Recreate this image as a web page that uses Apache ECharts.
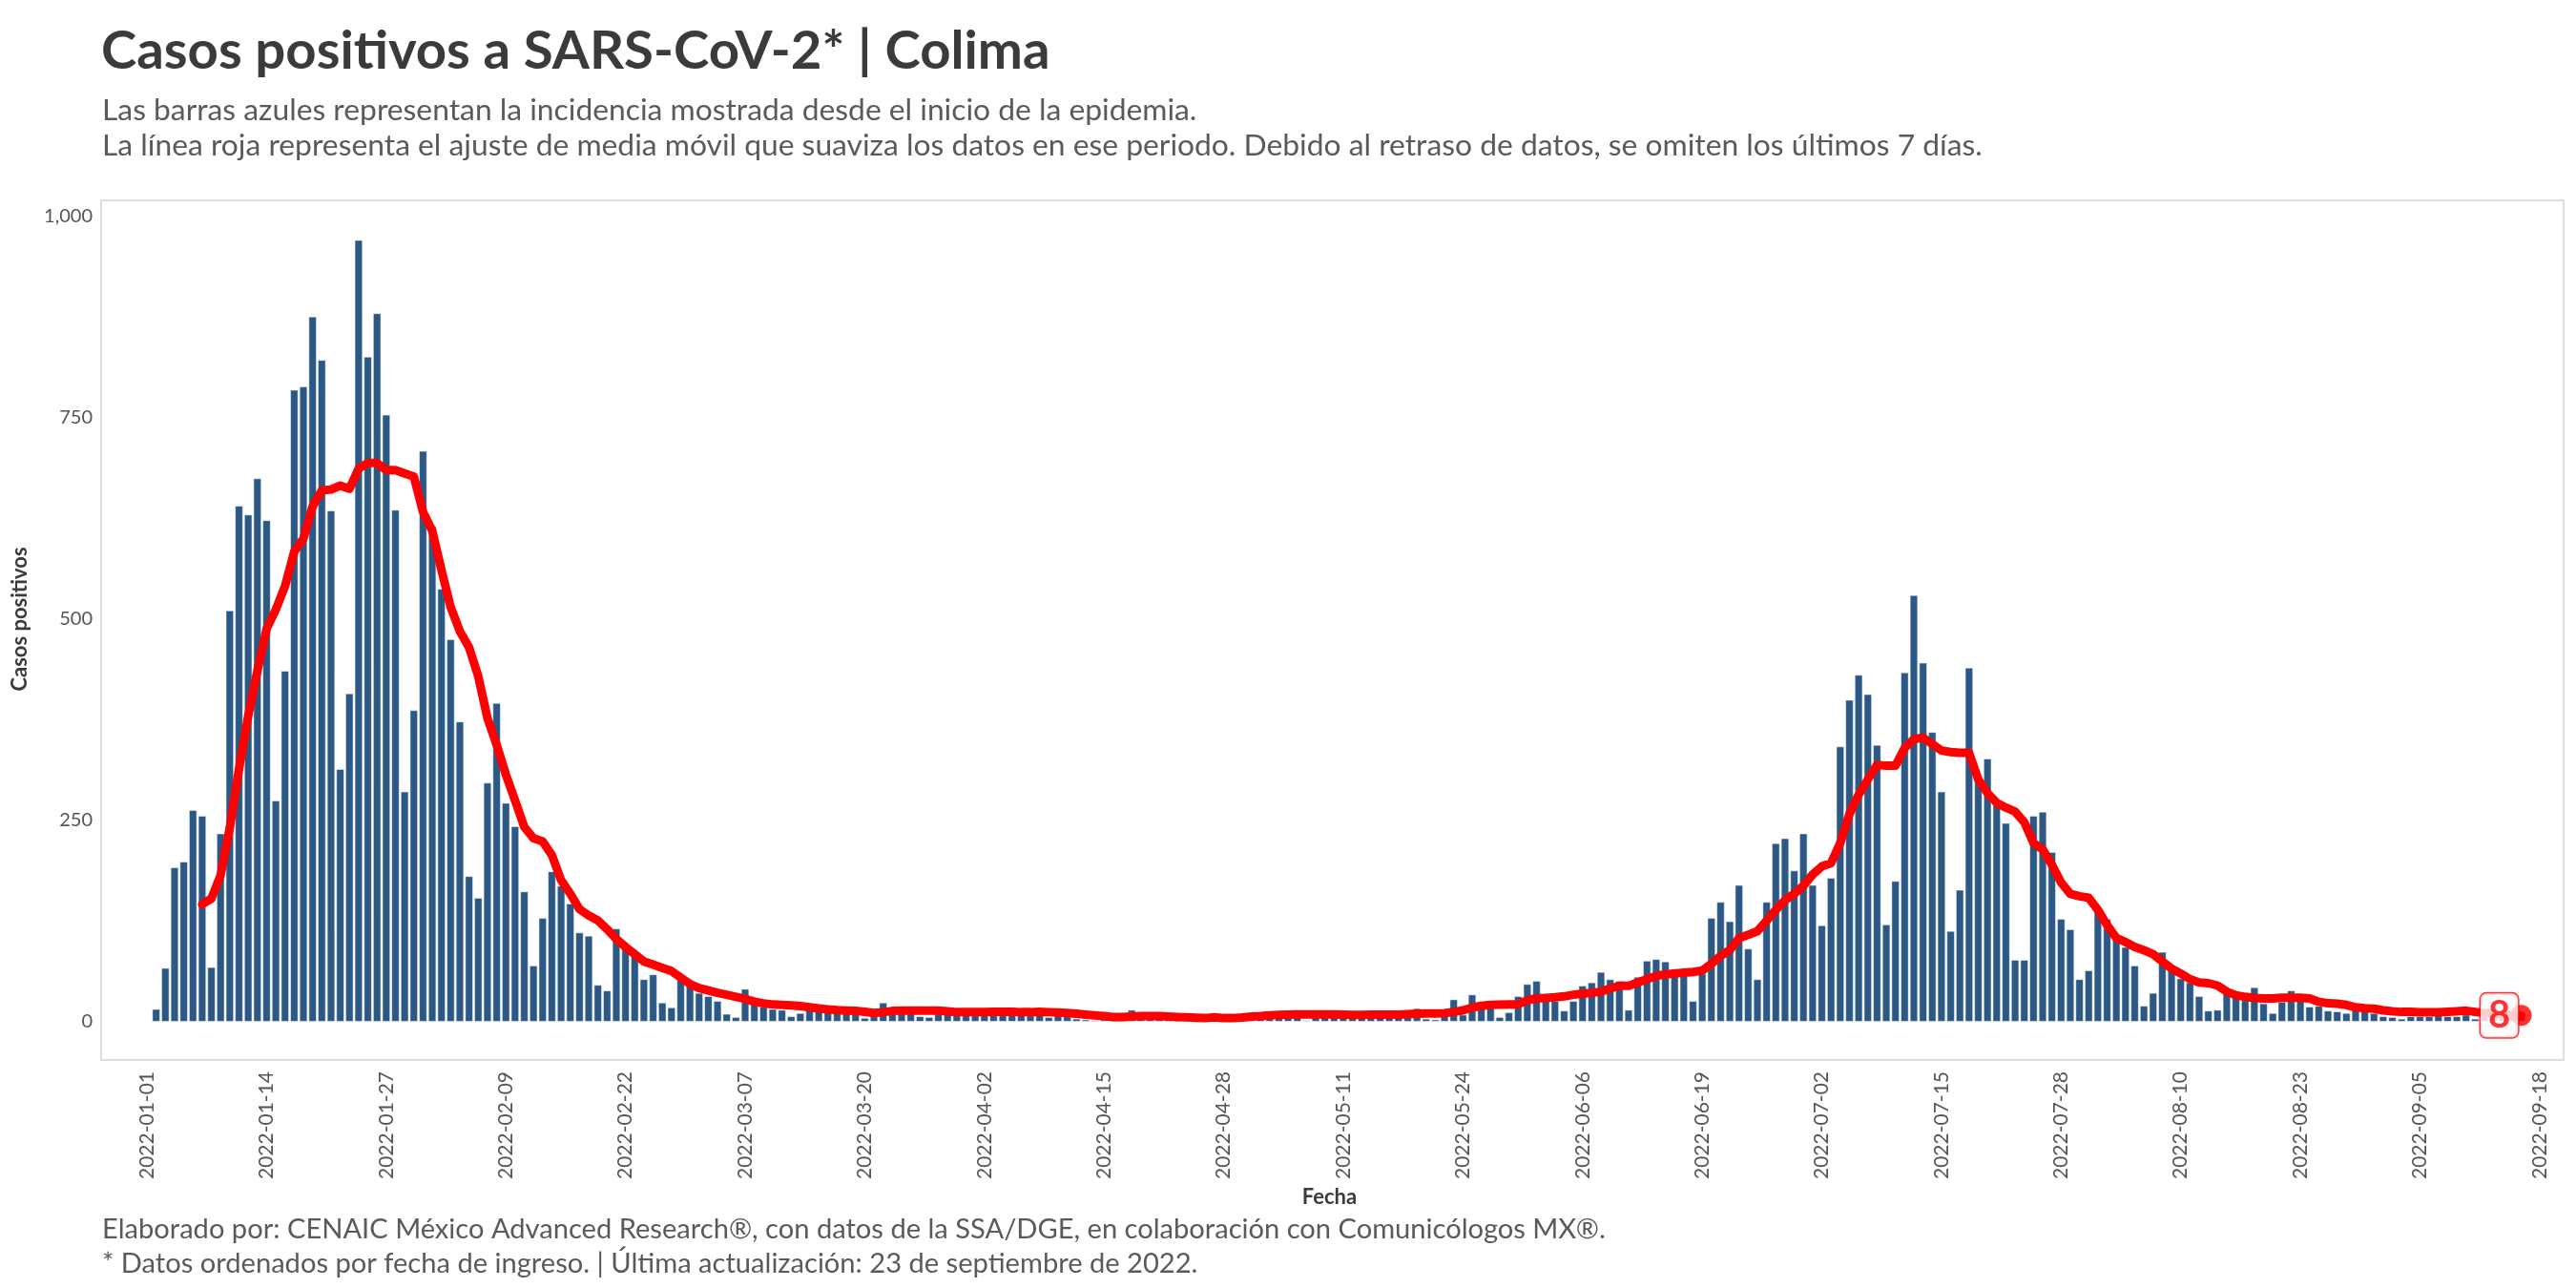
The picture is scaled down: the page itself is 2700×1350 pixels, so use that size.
<!DOCTYPE html>
<html lang="es">
<head>
<meta charset="utf-8">
<title>Casos positivos a SARS-CoV-2 | Colima</title>
<script src="https://cdn.jsdelivr.net/npm/echarts@6/dist/echarts.min.js"></script>
<style>
    html, body { margin: 0; padding: 0; background: #ffffff; }
    #grafica { width: 2700px; height: 1350px; }
</style>
</head>
<body>
<div id="grafica"></div>
<script>

// rango del eje x (un poco de margen antes y despues de los datos)
var inicioEje = '2021-12-27';
var finEje = '2022-09-20';

// etiquetas del eje x, cada 13 dias
var etiquetasFecha = ['2022-01-01', '2022-01-14', '2022-01-27', '2022-02-09', '2022-02-22',
    '2022-03-07', '2022-03-20', '2022-04-02', '2022-04-15', '2022-04-28', '2022-05-11',
    '2022-05-24', '2022-06-06', '2022-06-19', '2022-07-02', '2022-07-15', '2022-07-28',
    '2022-08-10', '2022-08-23', '2022-09-05', '2022-09-18'];

// etiquetas del eje y
var etiquetasCasos = [0, 250, 500, 750, 1000];

// casos positivos por dia, desde el 2022-01-02
var inicioCasos = '2022-01-02';
var casos = [
    16, 67, 192, 199, 263, 256, 68, 234, 511, 641,
    630, 675, 623, 275, 436, 785, 789, 876, 822, 635,
    314, 408, 971, 826, 880, 754, 636, 286, 387, 709,
    616, 538, 475, 373, 181, 154, 297, 396, 272, 243,
    162, 70, 129, 187, 169, 147, 111, 107, 46, 39,
    116, 93, 87, 53, 59, 24, 18, 54, 47, 36,
    32, 26, 10, 6, 41, 23, 19, 16, 15, 7,
    11, 22, 19, 16, 13, 12, 11, 5, 7, 24,
    13, 12, 11, 7, 6, 12, 11, 11, 11, 11,
    12, 13, 17, 15, 12, 11, 12, 6, 9, 7,
    4, 3, 2, 3, 3, 6, 15, 6, 5, 7,
    5, 4, 6, 3, 5, 4, 6, 3, 5, 7,
    8, 9, 13, 12, 12, 2, 9, 10, 8, 9,
    10, 7, 9, 10, 8, 9, 10, 17, 4, 3,
    9, 28, 9, 34, 25, 24, 6, 12, 32, 47,
    51, 27, 26, 14, 26, 45, 49, 62, 53, 51,
    15, 56, 76, 78, 75, 66, 66, 26, 60, 129,
    149, 125, 170, 91, 53, 149, 222, 228, 188, 234,
    170, 120, 179, 342, 400, 431, 407, 344, 121, 175,
    434, 530, 446, 360, 286, 113, 164, 440, 300, 327,
    275, 247, 77, 77, 256, 261, 211, 128, 115, 53,
    64, 140, 128, 104, 93, 70, 20, 36, 87, 64,
    54, 49, 32, 14, 15, 37, 31, 27, 43, 23,
    11, 25, 39, 29, 19, 20, 14, 13, 11, 15,
    13, 11, 7, 6, 4, 7, 7, 7, 12, 7,
    7, 9, 4, 7, 8, 6, 9, 8
];

// ajuste de media movil, desde el 2022-01-07
var inicioMedia = '2022-01-07';
var mediaMovil = [
    146, 153, 182, 241, 314, 380, 436, 488, 512, 541,
    584, 600, 640, 660, 661, 666, 662, 687, 694, 694,
    685, 685, 681, 677, 633, 610, 561, 515, 485, 465,
    429, 377, 344, 307, 275, 242, 228, 224, 207, 176,
    159, 140, 132, 126, 115, 103, 93, 84, 75, 71,
    67, 63, 55, 47, 42, 39, 36, 33.5, 31, 28.5,
    25, 23, 21.5, 21, 20.5, 19.5, 18, 16.5, 15.5, 14.5,
    14, 13.5, 12.5, 11, 12, 13.5, 13.8, 14, 14, 14,
    14, 13, 12, 12, 12, 12, 12.3, 12.5, 12.5, 12,
    12, 12.5, 12, 11.5, 11, 10, 9, 8, 7, 6,
    6, 6.5, 7, 7, 7, 6.5, 6, 5.5, 5, 4.6,
    5.5, 4.6, 4.6, 5.3, 6.5, 7, 8, 8.5, 9, 9.2,
    9.2, 9.2, 9.2, 9.2, 9, 8.5, 8.7, 8.8, 8.8, 8.8,
    9, 9.5, 10, 10.4, 10.4, 10.8, 12.3, 14.2, 17.8, 19.8,
    21, 21.3, 21.5, 21.7, 27, 29, 29.6, 30.4, 31.6, 33.6,
    35, 36, 37.5, 41.5, 44.6, 44.6, 49, 53, 57, 59,
    60, 61, 62, 63.6, 72, 82, 89, 104, 108, 112.6,
    125.6, 139, 151, 159, 169, 183, 193, 197, 222, 258,
    282, 301, 319, 318, 318, 340, 351, 353, 345, 337,
    335, 334, 334, 301, 284, 272, 266, 261, 248, 222,
    214, 195, 173, 159, 156, 154, 139, 120, 104, 99,
    93, 89, 84, 75, 66, 60, 53, 49, 48, 45,
    37.5, 33, 31, 29.6, 29, 29, 30, 30, 30, 29,
    25, 23, 22.5, 21, 18, 17, 16.3, 14.2, 13, 12.3,
    12.3, 11.8, 11.8, 11.8, 12.3, 13, 13.8, 12.3, 11, 10,
    9, 8.5, 8
];

var titulo = 'Casos positivos a SARS-CoV-2* | Colima';
var subtitulo = [
    'Las barras azules representan la incidencia mostrada desde el inicio de la epidemia.',
    'La línea roja representa el ajuste de media móvil que suaviza los datos en ese periodo. Debido al retraso de datos, se omiten los últimos 7 días.'
];
var notas = [
    'Elaborado por: CENAIC México Advanced Research®, con datos de la SSA/DGE, en colaboración con Comunicólogos MX®.',
    '* Datos ordenados por fecha de ingreso. | Última actualización: 23 de septiembre de 2022.'
];

var FUENTE = 'Lato';

// fecha 'YYYY-MM-DD' + n dias
function sumarDias(fecha, n) {
    var p = fecha.split('-');
    var d = new Date(Date.UTC(+p[0], +p[1] - 1, +p[2] + n));
    return d.toISOString().slice(0, 10);
}

var fechas = [];
var f = inicioEje;
while (f <= finEje) {
    fechas.push(f);
    f = sumarDias(f, 1);
}

// coloca una serie diaria sobre las fechas del eje
function alinear(inicio, valores) {
    var serie = fechas.map(function () { return null; });
    var base = fechas.indexOf(inicio);
    for (var i = 0; i < valores.length; i++) {
        serie[base + i] = valores[i];
    }
    return serie;
}

var serieCasos = alinear(inicioCasos, casos);
var serieMedia = alinear(inicioMedia, mediaMovil);
var fechaUltima = sumarDias(inicioMedia, mediaMovil.length - 1);
var valorUltimo = mediaMovil[mediaMovil.length - 1];

var chart = echarts.init(document.getElementById('grafica'), null, { renderer: 'canvas' });

chart.setOption({
    animation: false,
    backgroundColor: '#ffffff',
    textStyle: { fontFamily: FUENTE },
    grid: { left: 101, right: 14, top: 227, bottom: 279, containLabel: false },
    graphic: [
        {
            type: 'rect', silent: true, z: 0,
            shape: { x: 106, y: 210, width: 2581, height: 901 },
            style: { fill: 'none', stroke: '#dedede', lineWidth: 2 }
        },
        {
            type: 'text', x: 106, y: 54,
            style: { text: titulo, fontFamily: FUENTE, fontSize: 56.3, fontWeight: 'bold', fill: '#3b3b3b', align: 'left', verticalAlign: 'middle' }
        },
        {
            type: 'text', x: 107, y: 116,
            style: { text: subtitulo[0], fontFamily: FUENTE, fontSize: 31.8, fill: '#5a5a5a', align: 'left', verticalAlign: 'middle' }
        },
        {
            type: 'text', x: 107, y: 153,
            style: { text: subtitulo[1], fontFamily: FUENTE, fontSize: 31.8, fill: '#5a5a5a', align: 'left', verticalAlign: 'middle' }
        },
        {
            type: 'text', x: 107, y: 1289,
            style: { text: notas[0], fontFamily: FUENTE, fontSize: 29.1, fill: '#5a5a5a', align: 'left', verticalAlign: 'middle' }
        },
        {
            type: 'text', x: 107, y: 1325,
            style: { text: notas[1], fontFamily: FUENTE, fontSize: 29.1, fill: '#5a5a5a', align: 'left', verticalAlign: 'middle' }
        }
    ],
    xAxis: {
        type: 'category',
        data: fechas,
        offset: 40,
        name: 'Fecha',
        nameLocation: 'middle',
        nameGap: 128,
        nameTextStyle: { fontFamily: FUENTE, fontSize: 22, fontWeight: 'bold', color: '#3b3b3b' },
        axisLine: { show: false },
        axisTick: { show: false },
        splitLine: { show: false },
        axisLabel: {
            rotate: 90,
            margin: 12,
            fontSize: 21,
            color: '#555555',
            interval: function (i, valor) { return etiquetasFecha.indexOf(valor) >= 0; }
        }
    },
    yAxis: {
        type: 'value',
        min: etiquetasCasos[0],
        max: etiquetasCasos[etiquetasCasos.length - 1],
        interval: 250,
        name: 'Casos positivos',
        nameLocation: 'middle',
        nameRotate: 90,
        nameGap: 69,
        nameTextStyle: { fontFamily: FUENTE, fontSize: 22, fontWeight: 'bold', color: '#3b3b3b' },
        axisLine: { show: false },
        axisTick: { show: false },
        splitLine: { show: false },
        axisLabel: {
            margin: 4,
            fontSize: 20,
            color: '#555555',
            formatter: function (v) { return v.toLocaleString('en-US'); }
        }
    },
    series: [
        {
            name: 'Casos',
            type: 'bar',
            data: serieCasos,
            barCategoryGap: '10%',
            itemStyle: { color: '#2c5885', borderColor: 'rgba(255,255,255,0.5)', borderWidth: 1 },
            z: 2
        },
        {
            name: 'Media móvil',
            type: 'line',
            data: serieMedia,
            showSymbol: false,
            connectNulls: false,
            lineStyle: { color: '#ff0000', width: 9, cap: 'round', join: 'round' },
            z: 3
        },
        {
            name: 'Último valor',
            type: 'scatter',
            data: [[fechaUltima, valorUltimo]],
            symbolSize: 22,
            itemStyle: { color: '#ff0000' },
            z: 4,
            label: {
                show: true,
                position: 'inside',
                offset: [-23, 0],
                formatter: function (p) { return String(p.value[1]); },
                fontFamily: FUENTE,
                fontSize: 40,
                fontWeight: 'bold',
                color: '#ff0000',
                backgroundColor: '#ffffff',
                borderColor: '#ff0000',
                borderWidth: 1.5,
                borderRadius: 6,
                padding: [4, 8, 2, 8]
            }
        }
    ]
});
</script>
</body>
</html>
